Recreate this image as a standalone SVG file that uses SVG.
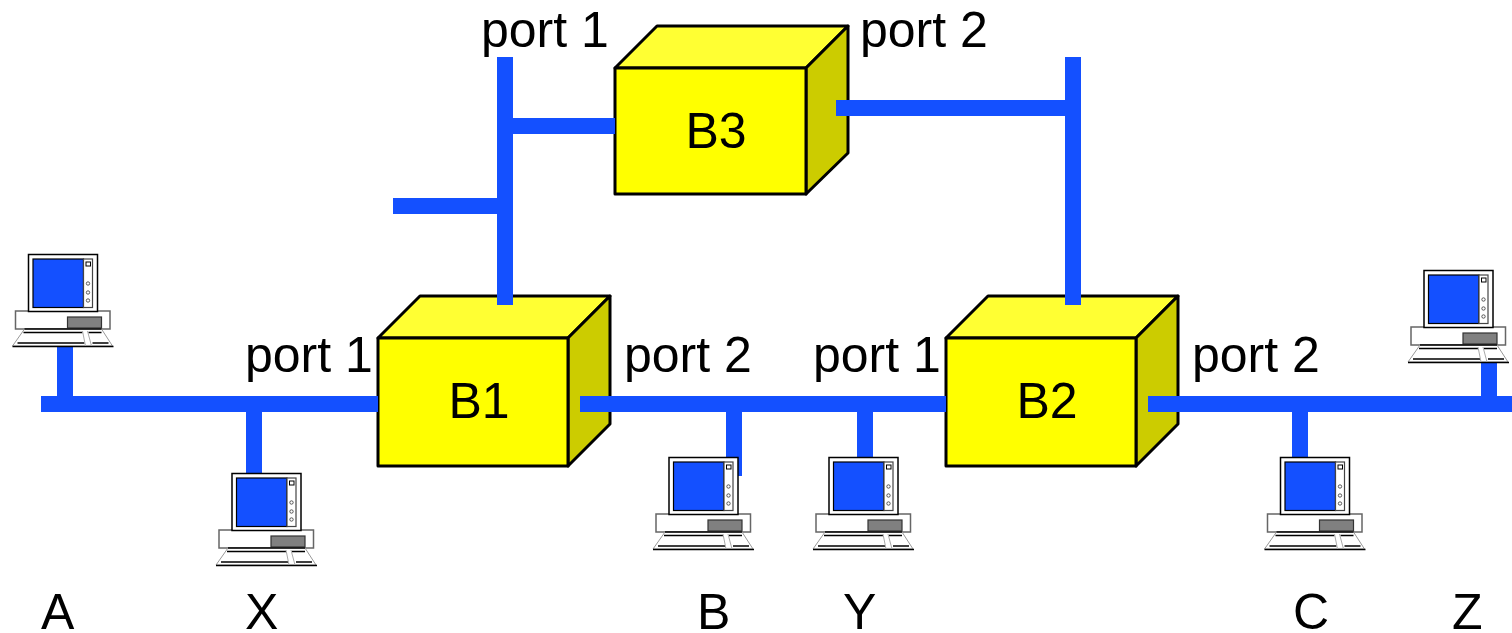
<svg xmlns="http://www.w3.org/2000/svg" xmlns:xlink="http://www.w3.org/1999/xlink" width="1512" height="633" viewBox="0 0 1512 633">
<style>
text{font-family:"Liberation Sans",Arial,sans-serif;font-size:50px;fill:#000}
.c{text-anchor:middle}
.front{fill:#ffff00;stroke:#000;stroke-width:3;stroke-linejoin:round}
.top{fill:#ffff33;stroke:#000;stroke-width:3;stroke-linejoin:round}
.side{fill:#cccc00;stroke:#000;stroke-width:3;stroke-linejoin:round}
.wire{fill:#1450ff}
.o{fill:#fff;stroke:#000;stroke-width:1.5}
.g{fill:#fff;stroke:#666;stroke-width:1.5}
.l{fill:none;stroke:#000;stroke-width:1.3}
</style>
<defs>
<symbol id="pc" overflow="visible" width="100" height="100">
<rect class="g" x="3" y="57" width="94.500" height="18"/>
<rect class="o" x="16" y="0.500" width="69" height="57"/>
<rect x="20.500" y="5" width="50.500" height="48.500" fill="#1450ff" stroke="#000" stroke-width="1.200"/>
<rect x="71" y="5" width="9" height="48.500" fill="#fff" stroke="#444" stroke-width="1.200"/>
<rect x="73.500" y="8" width="4.500" height="4" fill="#fff" stroke="#000"/>
<circle cx="75.500" cy="29.500" r="1.700" fill="#fff" stroke="#333" stroke-width=".8"/>
<circle cx="75.500" cy="38.500" r="1.700" fill="#fff" stroke="#333" stroke-width=".8"/>
<circle cx="75.500" cy="46.500" r="1.700" fill="#fff" stroke="#333" stroke-width=".8"/>
<rect x="55" y="63" width="34" height="11" fill="#808080" stroke="#333" stroke-width="1.200"/>
<path d="M12 75H89L100 92H0Z" fill="#fff" stroke="#999"/>
<path class="l" d="M12 75H89M11 78.500H70M5 89H72M76 78.500H89M80 89H96M0 92.500H101"/>
<path d="M70 77L73 92M75 77L79 92" fill="none" stroke="#aaa"/>
</symbol>
</defs>
<g id="B1">
<path class="top" d="M378 338L420 296H610L568 338Z"/>
<path class="side" d="M568 338L610 296V424L568 466Z"/>
<rect class="front" x="378" y="338" width="190" height="128"/>
<text class="c" x="479" y="418">B1</text>
</g>
<g id="B2">
<path class="top" d="M946 338L988 296H1178L1136 338Z"/>
<path class="side" d="M1136 338L1178 296V424L1136 466Z"/>
<rect class="front" x="946" y="338" width="190" height="128"/>
<text class="c" x="1047" y="418">B2</text>
</g>
<g id="B3">
<path class="top" d="M615 68L657 26H848L806 68Z"/>
<path class="side" d="M806 68L848 26V153L806 194Z"/>
<rect class="front" x="615" y="68" width="191" height="126"/>
<text class="c" x="716" y="148">B3</text>
</g>
<g id="connectors">
<rect class="wire" x="41" y="396" width="337" height="16"/>
<rect class="wire" x="580" y="396" width="366" height="16"/>
<rect class="wire" x="1148" y="396" width="364" height="16"/>
<rect class="wire" x="57" y="345" width="16" height="55"/>
<rect class="wire" x="246" y="404" width="16" height="70"/>
<rect class="wire" x="726" y="404" width="16" height="72"/>
<rect class="wire" x="857" y="404" width="16" height="56"/>
<rect class="wire" x="1292" y="404" width="16" height="56"/>
<rect class="wire" x="1481" y="360" width="16" height="44"/>
<rect class="wire" x="497" y="57" width="16" height="248"/>
<rect class="wire" x="513" y="118" width="102" height="16"/>
<rect class="wire" x="393" y="198" width="104" height="16"/>
<rect class="wire" x="1065" y="57" width="16" height="248"/>
<rect class="wire" x="836" y="100" width="229" height="16"/>
</g>
<g id="pc-A"><use href="#pc" x="12.500" y="254"/></g>
<g id="pc-X"><use href="#pc" x="216" y="473"/></g>
<g id="pc-B"><use href="#pc" x="653" y="457"/></g>
<g id="pc-Y"><use href="#pc" x="813" y="457"/></g>
<g id="pc-C"><use href="#pc" x="1264.500" y="457"/></g>
<g id="pc-Z"><use href="#pc" x="1408" y="270"/></g>
<g id="labels">
<text x="481" y="47">port 1</text>
<text x="860" y="47">port 2</text>
<text x="245" y="372">port 1</text>
<text x="624" y="372">port 2</text>
<text x="813" y="372">port 1</text>
<text x="1192" y="372">port 2</text>
<text x="41" y="629">A</text>
<text x="245" y="629">X</text>
<text x="697" y="629">B</text>
<text x="843" y="629">Y</text>
<text x="1293" y="629">C</text>
<text x="1452" y="629">Z</text>
</g>
</svg>
